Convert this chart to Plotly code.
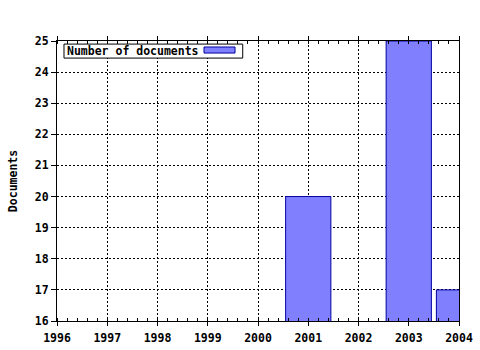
import plotly.graph_objects as go

years = [2001, 2003, 2004]
documents = [20, 25, 17]
series_name = "Number of documents"
y_title = "Documents"
x_ticks = [1996, 1997, 1998, 1999, 2000, 2001, 2002, 2003, 2004]
y_ticks = [16, 17, 18, 19, 20, 21, 22, 23, 24, 25]

fill_color = "#8080ff"
edge_color = "#0000a0"
font_family = "DejaVu Sans Mono"

fig = go.Figure()
fig.add_trace(go.Bar(
    x=years, y=documents, width=0.9, name=series_name,
    marker=dict(color=fill_color, line=dict(color=edge_color, width=1)),
    showlegend=False,
))

axis_font = dict(family=font_family, size=11.5, color="black", weight="bold")

fig.update_layout(
    width=480, height=350,
    margin=dict(l=57, r=21, t=41, b=29, autoexpand=False),
    paper_bgcolor="white", plot_bgcolor="white",
    font=dict(family=font_family, size=11.5, color="black"),
    xaxis=dict(
        range=[1996, 2004], tickvals=x_ticks, ticktext=[str(v) for v in x_ticks],
        showgrid=True, gridcolor="black", griddash="2px,2px", gridwidth=1,
        showline=True, linecolor="black", linewidth=1, mirror="allticks",
        ticks="outside", ticklen=4, tickcolor="black", ticklabelstandoff=2,
        minor=dict(dtick=0.2, ticks="inside", ticklen=3, tickcolor="black", showgrid=False),
        tickfont=axis_font, zeroline=False, automargin=False,
    ),
    yaxis=dict(
        range=[16, 25], tickvals=y_ticks, ticktext=[str(v) for v in y_ticks],
        showgrid=True, gridcolor="black", griddash="2px,2px", gridwidth=1,
        showline=True, linecolor="black", linewidth=1, mirror=True,
        ticks="outside", ticklen=5, tickcolor="black",
        tickfont=axis_font, zeroline=False, automargin=False,
        title=dict(text=y_title, font=axis_font, standoff=14),
    ),
)

# legend box (text followed by swatch)
fig.add_shape(type="rect", xref="paper", yref="paper",
              x0=0.0174, x1=0.462, y0=0.939, y1=0.989,
              fillcolor="white", line=dict(color="black", width=1), layer="above")
fig.add_shape(type="rect", xref="paper", yref="paper",
              x0=0.3657, x1=0.4428, y0=0.957, y1=0.9786,
              fillcolor=fill_color, line=dict(color=edge_color, width=1), layer="above")
fig.add_annotation(xref="paper", yref="paper", x=0.019, y=0.964,
                   xanchor="left", yanchor="middle", showarrow=False,
                   text=series_name, font=axis_font)

fig.write_html("out.html")
